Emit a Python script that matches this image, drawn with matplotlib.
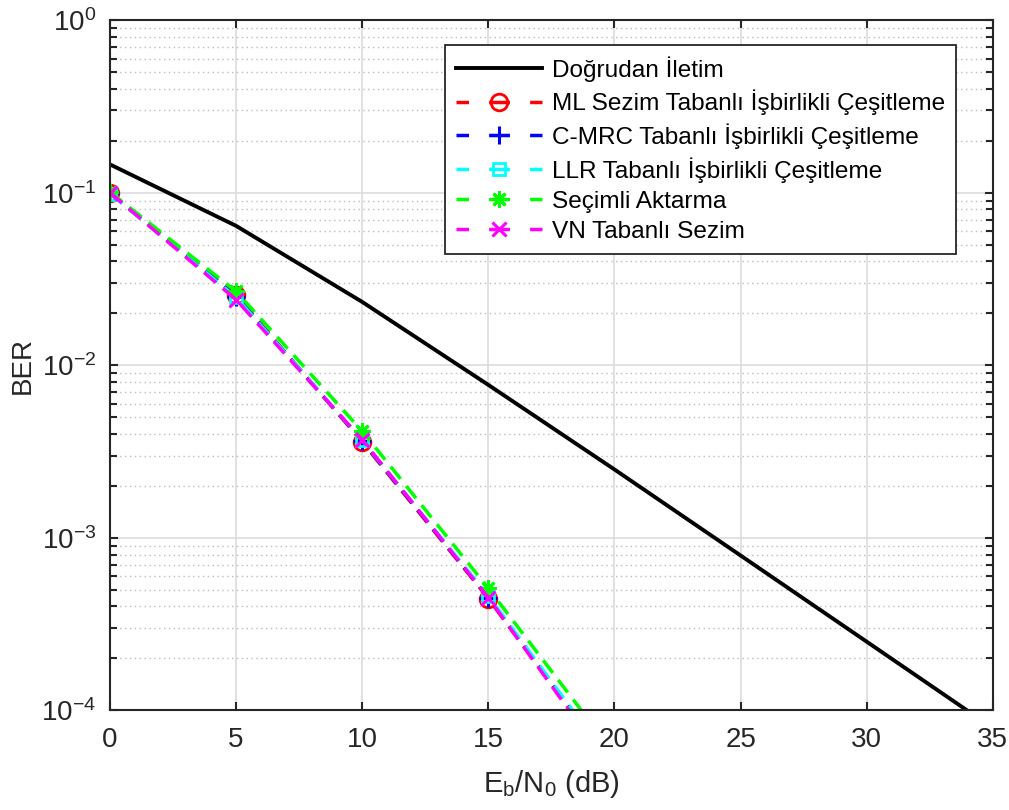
import matplotlib
matplotlib.use("Agg")
import matplotlib.pyplot as plt
from matplotlib.ticker import LogLocator, NullFormatter, MultipleLocator

plt.rcParams['font.family'] = ['Liberation Sans', 'DejaVu Sans']
plt.rcParams['mathtext.fontset'] = 'custom'
plt.rcParams['mathtext.rm'] = 'Liberation Sans'
plt.rcParams['mathtext.it'] = 'Liberation Sans'

# Eb/N0 (dB)
snr_direct = [0, 5, 10, 15, 20, 25, 30, 35]
ber_direct = [0.146, 0.0643, 0.0233, 0.0077, 0.00249, 7.9e-4, 2.5e-4, 7.9e-5]

snr_coop = [0, 5, 10, 15, 20]
ber_ml = [0.100, 0.0255, 0.00360, 4.45e-4, 4.5e-5]
ber_cmrc = [0.100, 0.0250, 0.00365, 4.5e-4, 4.6e-5]
ber_llr = [0.099, 0.0248, 0.00368, 4.6e-4, 4.7e-5]
ber_sel = [0.101, 0.0268, 0.00415, 5.1e-4, 5.6e-5]
ber_vn = [0.100, 0.0240, 0.00370, 4.5e-4, 4.3e-5]

labels = ['Doğrudan İletim',
          'ML Sezim Tabanlı İşbirlikli Çeşitleme',
          'C-MRC Tabanlı İşbirlikli Çeşitleme',
          'LLR Tabanlı İşbirlikli Çeşitleme',
          'Seçimli Aktarma',
          'VN Tabanlı Sezim']

fig = plt.figure(figsize=(10.09, 8.10), dpi=100)
ax = fig.add_axes([0.109, 0.123, 0.875, 0.852])

dash = (4.5, 2.6)
ax.semilogy(snr_direct, ber_direct, 'k-', lw=2.8, label=labels[0])
ax.semilogy(snr_coop, ber_ml, '--o', color='#ff0000', lw=2.5, ms=12,
            mfc='none', mew=2, dashes=dash, label=labels[1])
ax.semilogy(snr_coop, ber_cmrc, '--+', color='#0000ff', lw=2.5, ms=13,
            mew=2.2, dashes=dash, label=labels[2])
ax.semilogy(snr_coop, ber_llr, '--s', color='#00ffff', lw=2.5, ms=9,
            mfc='none', mew=2, dashes=dash, label=labels[3])
ax.semilogy(snr_coop, ber_sel, '--', marker=(8, 2, 0), color='#00ff00', lw=2.5,
            ms=12, mew=2, dashes=dash, label=labels[4])
ax.semilogy(snr_coop, ber_vn, '--x', color='#ff00ff', lw=2.5, ms=10,
            mew=2.2, dashes=dash, label=labels[5])

ax.set_xlim(0, 35)
ax.set_ylim(1e-4, 1)
ax.xaxis.set_major_locator(MultipleLocator(5))
ax.yaxis.set_major_locator(LogLocator(base=10, numticks=10))
ax.yaxis.set_minor_locator(LogLocator(base=10, subs=range(2, 10), numticks=10))
ax.yaxis.set_minor_formatter(NullFormatter())

ax.grid(True, which='major', color='#dcdcdc', lw=1.2, ls='-')
ax.grid(True, which='minor', axis='y', color='#bcbcbc', lw=1, ls=(0, (1, 2.5)))
ax.set_axisbelow(True)

ax.tick_params(which='both', direction='in', top=True, right=True,
               labelsize=20, colors='#262626')
ax.tick_params(axis='x', pad=12)
ax.tick_params(axis='y', pad=10)
ax.tick_params(which='major', length=6, width=1.5)
ax.tick_params(which='minor', length=5, width=1.5)
for s in ax.spines.values():
    s.set_linewidth(1.5)
    s.set_color('#262626')

ax.set_xlabel(r'E$_\mathregular{b}$/N$_\mathregular{0}$ (dB)', fontsize=21,
              color='#262626', labelpad=11)
ax.set_ylabel('BER', fontsize=20, color='#262626', labelpad=4)

leg = ax.legend(loc='upper right', bbox_to_anchor=(0.958, 0.964), fontsize=17.6,
                handlelength=3.5, handletextpad=0.4, borderpad=0.45,
                labelspacing=0.33, borderaxespad=0, fancybox=False,
                framealpha=1, edgecolor='#262626')
leg.get_frame().set_linewidth(1.3)
# MATLAB-like legend sample: short dash, marker, short dash
for ln in leg.get_lines()[1:]:
    ln.set_dashes((3.6, 5.8, 6.0, 5.8, 3.6, 30))

fig.savefig('out.png', dpi=100)
